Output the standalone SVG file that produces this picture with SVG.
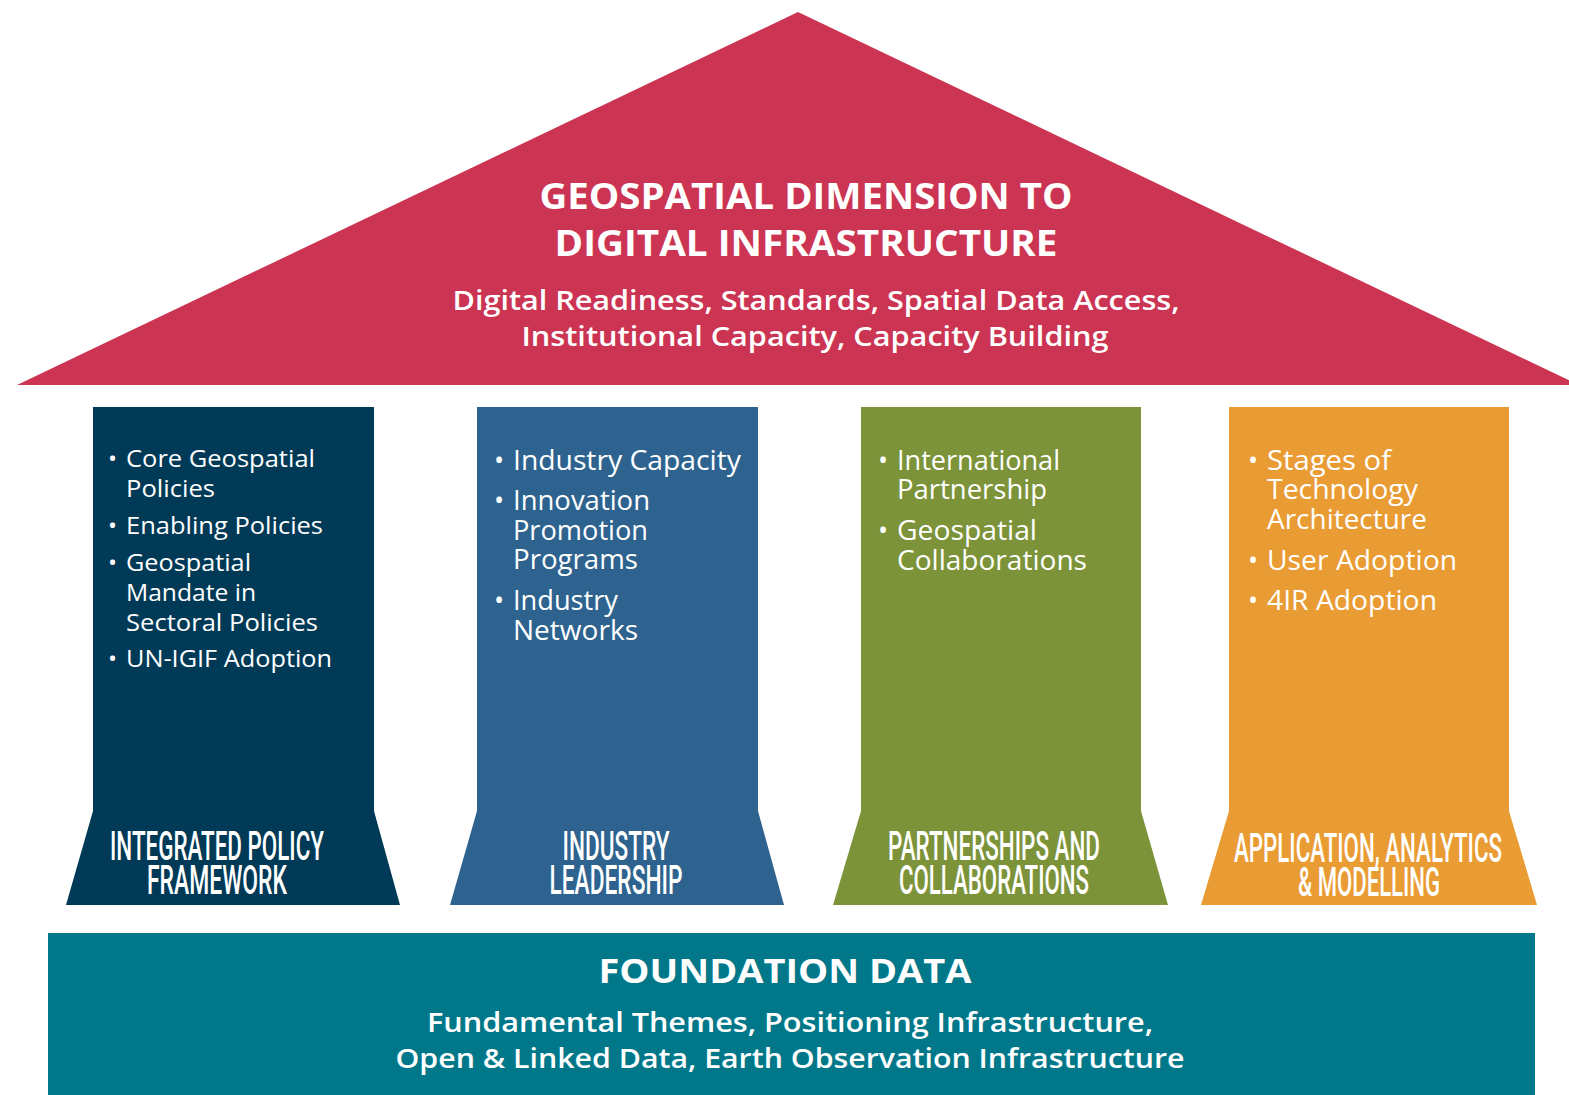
<svg xmlns="http://www.w3.org/2000/svg" width="1569" height="1095" viewBox="0 0 1569 1095">
<style>
.hd{font-family:"Open Sans","Noto Sans",sans-serif;font-weight:700;fill:#fff;text-anchor:middle}
.sub{font-family:"Open Sans","Noto Sans",sans-serif;font-weight:600;fill:#fff;text-anchor:middle}
.bl{font-family:"Open Sans","Lato",sans-serif;font-weight:500;fill:#fff}
.pt{font-family:"Roboto","Liberation Sans",sans-serif;font-weight:500;fill:#fff;text-anchor:middle}
</style>
<rect width="1569" height="1095" fill="#fff"/>
<g id="roof">
<polygon points="17,385 798,12 1579,385" fill="#CB3452"/>
<text class="hd" x="806" y="209" font-size="35" textLength="533" lengthAdjust="spacingAndGlyphs">GEOSPATIAL DIMENSION TO</text>
<text class="hd" x="806" y="256" font-size="35" textLength="503" lengthAdjust="spacingAndGlyphs">DIGITAL INFRASTRUCTURE</text>
<text class="sub" x="816" y="310" font-size="27" textLength="727" lengthAdjust="spacingAndGlyphs">Digital Readiness, Standards, Spatial Data Access,</text>
<text class="sub" x="815" y="346" font-size="27" textLength="587" lengthAdjust="spacingAndGlyphs">Institutional Capacity, Capacity Building</text>
</g>
<g id="pillar1">
<polygon points="93,407 374,407 374,811 400,905 66,905 93,811" fill="#013A57"/>
<g class="bl" font-size="24">
<text x="108" y="467">•</text><text x="126" y="467" textLength="189" lengthAdjust="spacingAndGlyphs">Core Geospatial</text>
<text x="126" y="497" textLength="89" lengthAdjust="spacingAndGlyphs">Policies</text>
<text x="108" y="534">•</text><text x="126" y="534" textLength="197" lengthAdjust="spacingAndGlyphs">Enabling Policies</text>
<text x="108" y="571">•</text><text x="126" y="571" textLength="125" lengthAdjust="spacingAndGlyphs">Geospatial</text>
<text x="126" y="601" textLength="130" lengthAdjust="spacingAndGlyphs">Mandate in</text>
<text x="126" y="631" textLength="192" lengthAdjust="spacingAndGlyphs">Sectoral Policies</text>
<text x="108" y="667">•</text><text x="126" y="667" textLength="206" lengthAdjust="spacingAndGlyphs">UN-IGIF Adoption</text>
</g>
<text class="pt" x="217" y="860" font-size="40" textLength="214" lengthAdjust="spacingAndGlyphs">INTEGRATED POLICY</text>
<text class="pt" x="217" y="894" font-size="40" textLength="140" lengthAdjust="spacingAndGlyphs">FRAMEWORK</text>
</g>
<g id="pillar2">
<polygon points="477,407 758,407 758,811 784,905 450,905 477,811" fill="#2E638F"/>
<g class="bl" font-size="27">
<text x="494" y="470">•</text><text x="513" y="470" textLength="228" lengthAdjust="spacingAndGlyphs">Industry Capacity</text>
<text x="494" y="510">•</text><text x="513" y="510" textLength="137" lengthAdjust="spacingAndGlyphs">Innovation</text>
<text x="513" y="540" textLength="135" lengthAdjust="spacingAndGlyphs">Promotion</text>
<text x="513" y="569" textLength="125" lengthAdjust="spacingAndGlyphs">Programs</text>
<text x="494" y="610">•</text><text x="513" y="610" textLength="105" lengthAdjust="spacingAndGlyphs">Industry</text>
<text x="513" y="640" textLength="125" lengthAdjust="spacingAndGlyphs">Networks</text>
</g>
<text class="pt" x="616" y="860" font-size="40" textLength="107" lengthAdjust="spacingAndGlyphs">INDUSTRY</text>
<text class="pt" x="616" y="894" font-size="40" textLength="133" lengthAdjust="spacingAndGlyphs">LEADERSHIP</text>
</g>
<g id="pillar3">
<polygon points="861,407 1141,407 1141,811 1168,905 833,905 861,811" fill="#7C933A"/>
<g class="bl" font-size="27">
<text x="878" y="470">•</text><text x="897" y="470" textLength="163" lengthAdjust="spacingAndGlyphs">International</text>
<text x="897" y="499" textLength="150" lengthAdjust="spacingAndGlyphs">Partnership</text>
<text x="878" y="540">•</text><text x="897" y="540" textLength="140" lengthAdjust="spacingAndGlyphs">Geospatial</text>
<text x="897" y="570" textLength="190" lengthAdjust="spacingAndGlyphs">Collaborations</text>
</g>
<text class="pt" x="994" y="860" font-size="40" textLength="212" lengthAdjust="spacingAndGlyphs">PARTNERSHIPS AND</text>
<text class="pt" x="994" y="894" font-size="40" textLength="190" lengthAdjust="spacingAndGlyphs">COLLABORATIONS</text>
</g>
<g id="pillar4">
<polygon points="1229,407 1509,407 1509,811 1537,905 1201,905 1229,811" fill="#E99B34"/>
<g class="bl" font-size="27">
<text x="1248" y="470">•</text><text x="1267" y="470" textLength="124" lengthAdjust="spacingAndGlyphs">Stages of</text>
<text x="1267" y="499" textLength="151" lengthAdjust="spacingAndGlyphs">Technology</text>
<text x="1267" y="529" textLength="160" lengthAdjust="spacingAndGlyphs">Architecture</text>
<text x="1248" y="570">•</text><text x="1267" y="570" textLength="190" lengthAdjust="spacingAndGlyphs">User Adoption</text>
<text x="1248" y="610">•</text><text x="1267" y="610" textLength="170" lengthAdjust="spacingAndGlyphs">4IR Adoption</text>
</g>
<text class="pt" x="1368" y="862" font-size="40" textLength="268" lengthAdjust="spacingAndGlyphs">APPLICATION, ANALYTICS</text>
<text class="pt" x="1369" y="896" font-size="40" textLength="142" lengthAdjust="spacingAndGlyphs">&amp; MODELLING</text>
</g>
<g id="foundation">
<rect x="48" y="933" width="1487" height="162" fill="#01788A"/>
<text class="hd" x="785" y="983" font-size="34" textLength="373" lengthAdjust="spacingAndGlyphs">FOUNDATION DATA</text>
<text class="sub" x="790" y="1032" font-size="27" textLength="726" lengthAdjust="spacingAndGlyphs">Fundamental Themes, Positioning Infrastructure,</text>
<text class="sub" x="790" y="1068" font-size="27" textLength="789" lengthAdjust="spacingAndGlyphs">Open &amp; Linked Data, Earth Observation Infrastructure</text>
</g>
<g id="connectors"></g>
</svg>
